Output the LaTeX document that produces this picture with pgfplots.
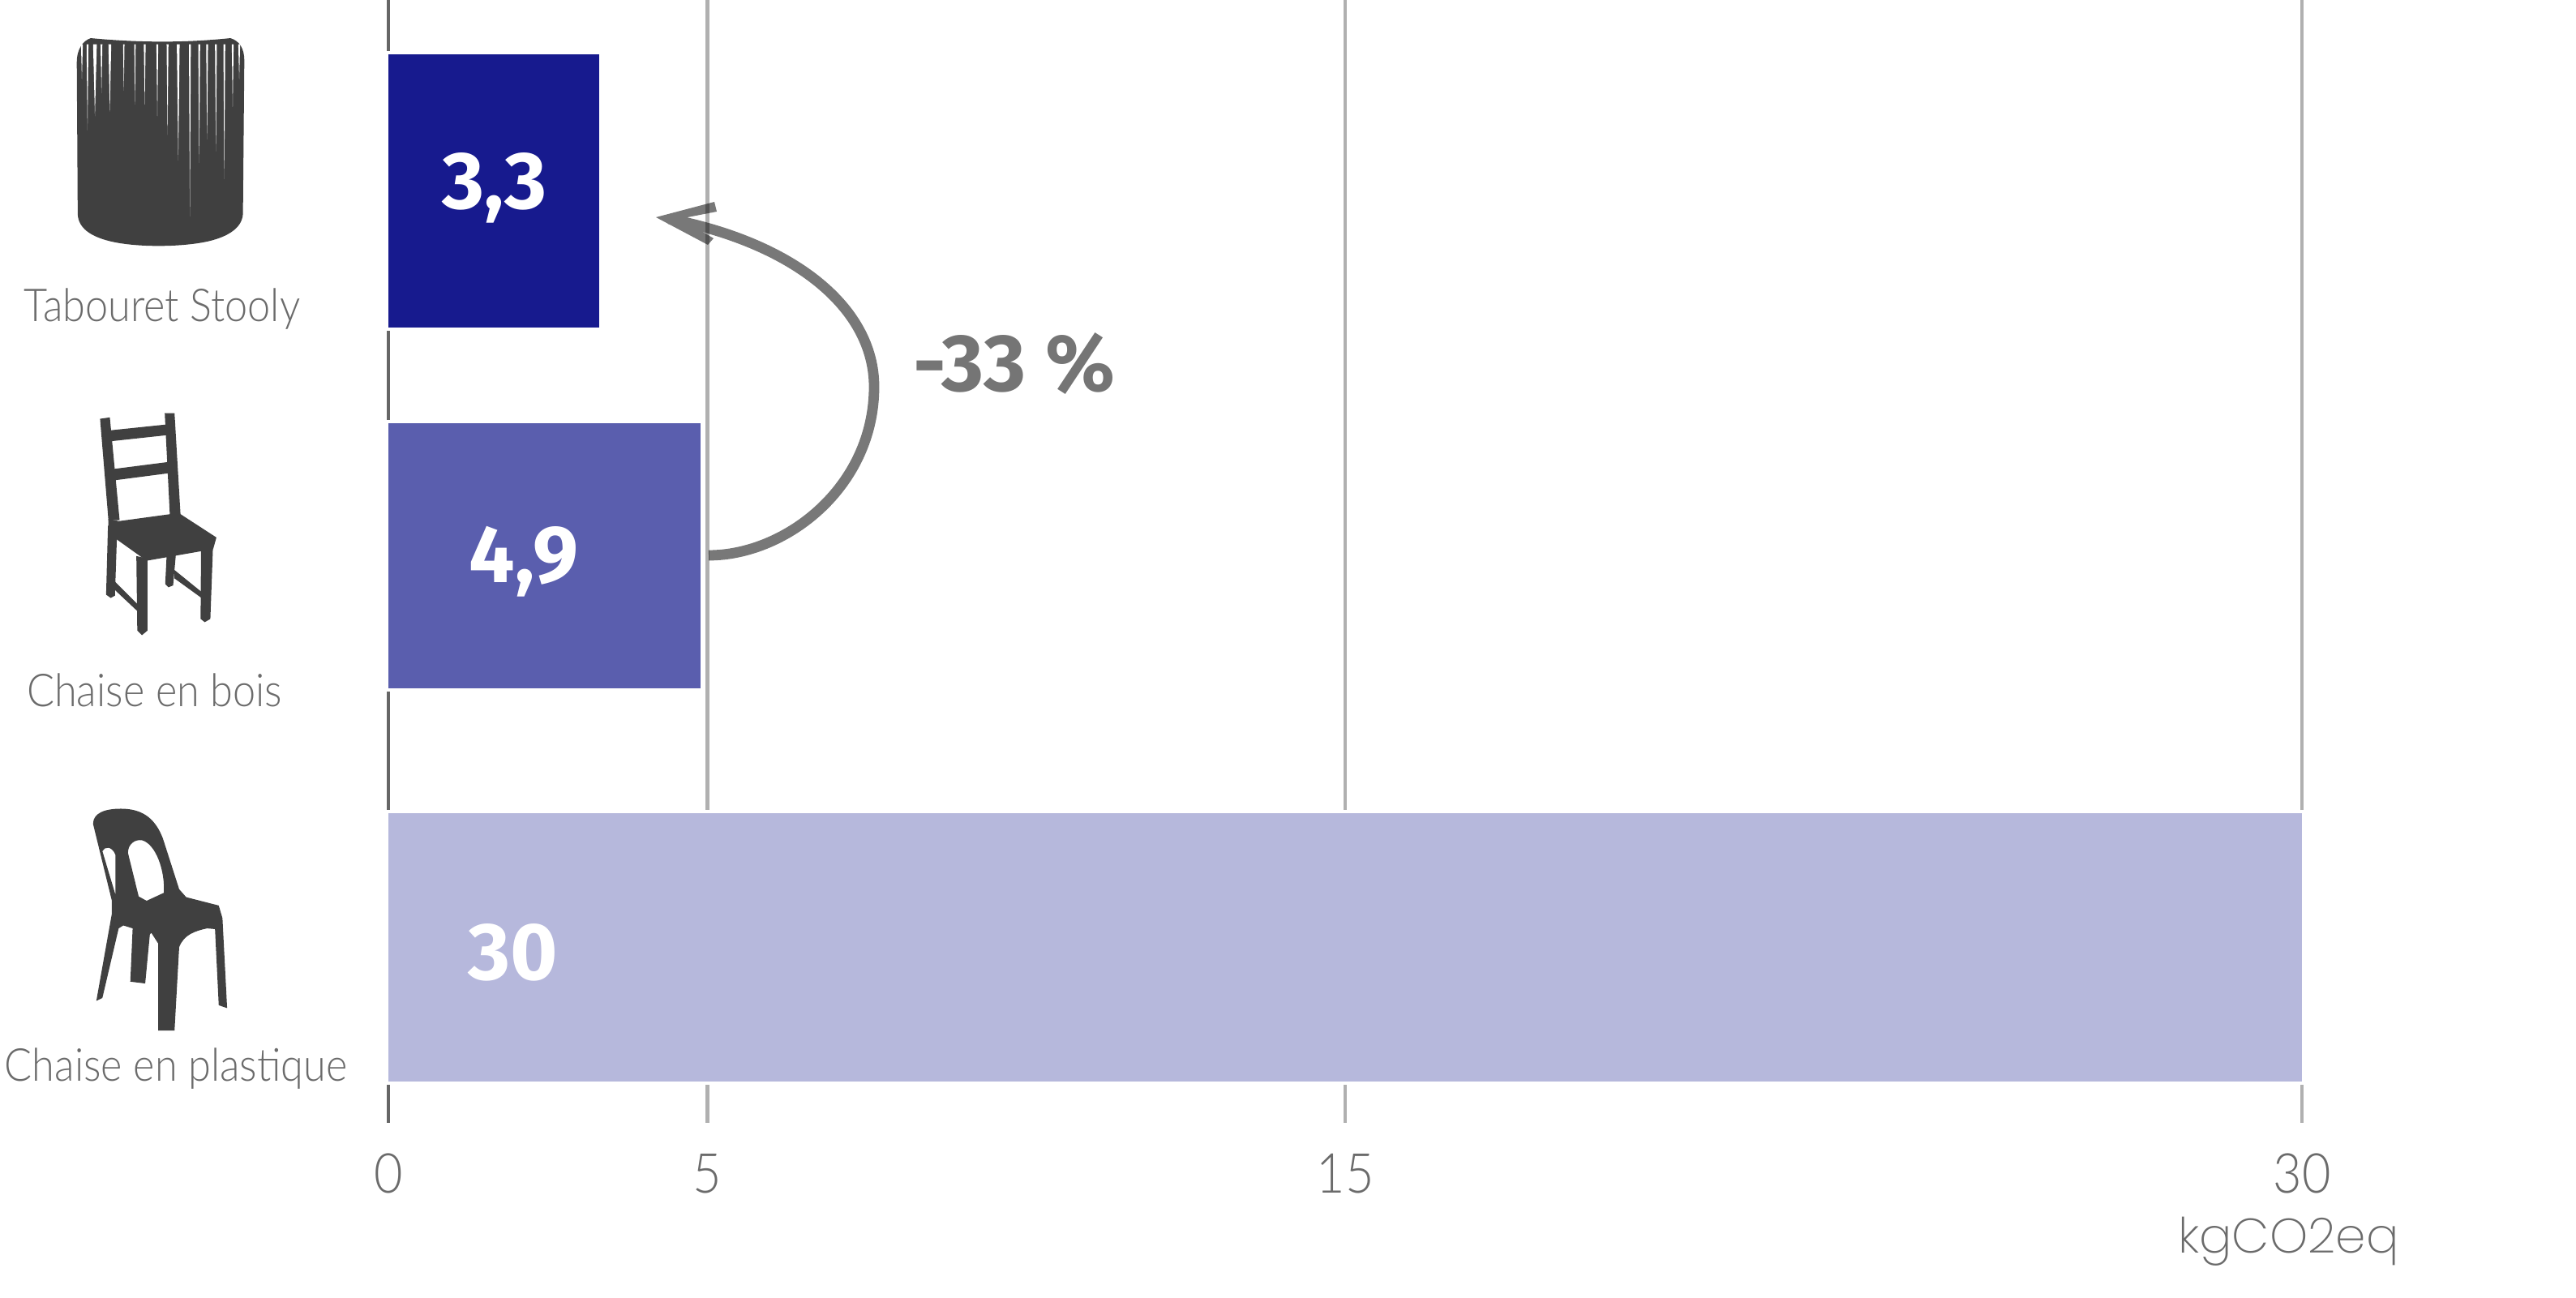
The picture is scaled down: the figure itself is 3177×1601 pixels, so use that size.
\documentclass[border=0pt]{standalone}
\usepackage{fontspec}
\usepackage{pgfplots}
\pgfplotsset{compat=1.18}
\setmainfont{Lato Light}[FakeStretch=0.90]
\newfontfamily\boldf{Fira Sans}
\newfontfamily\axisf{Poppins ExtraLight}
\definecolor{barA}{HTML}{171A8E}
\definecolor{barB}{HTML}{5A5EAE}
\definecolor{barC}{HTML}{B6B8DC}
\definecolor{gridc}{HTML}{B0B0B0}
\definecolor{zeroc}{HTML}{666666}
\definecolor{labelc}{HTML}{6B6B6B}
\definecolor{icon}{HTML}{404040}
% one reference pixel = 0.25pt
\pgfplotsset{
  halo/.style={xbar, bar shift=0pt, draw=white, fill=white, line width=2pt, forget plot},
  solid bar/.style={xbar, bar shift=0pt, draw=none, fill=#1, forget plot},
}
\begin{document}
\begin{tikzpicture}[x=0.25pt,y=-0.25pt]
\path[use as bounding box] (0,0) rectangle (3177,1601);
\begin{axis}[
  at={(119.75pt,0pt)}, anchor=north west,
  scale only axis,
  width=590pt, height=346.25pt,
  clip=false,
  xmin=0, xmax=30,
  ymin=0, ymax=1385,
  y dir=reverse,
  axis line style={draw=none},
  major tick length=0pt,
  xtick={5,15,30},
  extra x ticks={0},
  extra x tick style={major grid style={color=zeroc,line width=1pt}},
  xmajorgrids=true,
  major grid style={color=gridc,line width=1.15pt},
  xticklabel style={anchor=base,yshift=-21.5pt,font=\fontsize{17}{20}\selectfont,text=labelc},
  /pgf/number format/assume math mode=true,
  ytick={396,871,1333},
  yticklabels={{Tabouret Stooly\kern14.5pt},{Chaise en bois\kern20pt},{Chaise en plastique}},
  yticklabel style={anchor=base east,xshift=-12.5pt,inner sep=0pt,font=\fontsize{14}{17}\selectfont,text=labelc},
  xlabel={\axisf kgCO2eq},
  xlabel style={at={(axis description cs:0.993,0)},anchor=base,yshift=-40pt,font=\fontsize{15}{18}\selectfont,text=labelc},
]
% bars: y is the bar centre in reference pixels, width its height
\addplot[halo, bar width=84.25pt] coordinates {(3.3,235.5)};
\addplot[solid bar=barA, bar width=84.25pt] coordinates {(3.3,235.5)};
\addplot[halo, bar width=81.75pt] coordinates {(4.9,685.5)};
\addplot[solid bar=barB, bar width=81.75pt] coordinates {(4.9,685.5)};
\addplot[halo, bar width=82.75pt] coordinates {(30,1168)};
\addplot[solid bar=barC, bar width=82.75pt] coordinates {(30,1168)};
\end{axis}

% value labels
\begin{scope}[every node/.style={text=white,font=\boldf\bfseries\fontsize{25}{30}\selectfont,inner sep=0pt,anchor=base}]
\node at (610,258) {3,3};
\node at (646,719) {4,9};
\node at (633,1208) {30};
\end{scope}

% arrow from the wooden chair to the stool
\begin{scope}[transparency group,opacity=0.53]
\draw[black,line width=3.2pt] (874,685) .. controls (970,685) and (1078,600) .. (1078,477)
  .. controls (1078,380) and (980,300) .. (825,270);
\fill[black] (809,268) -- (881,249) -- (884,261) -- (848,268) -- (850,276) -- (880,294) -- (873,302) -- cycle;
\end{scope}
\node[anchor=base,inner sep=0pt,text=black!54,font=\boldf\bfseries\fontsize{25}{30}\selectfont] at (1251,483) {-33 \%};

% stool icon, in the crop's coordinates
\begin{scope}[x=0.1435pt,y=-0.1435pt]
\fill[icon] (195,82) .. controls (300,92) and (400,92) .. (495,82) .. controls (515,88) and (525,105) .. (525,130)
  -- (522,460) .. controls (520,490) and (490,508) .. (450,518) .. controls (390,532) and (290,532) .. (235,518)
  .. controls (195,508) and (168,490) .. (167,460) -- (165,135) .. controls (165,105) and (178,88) .. (195,82) -- cycle;
\foreach \sx/\sy/\sw in {176/170/2,188/280/2,204/250/4,218/200/2,236/240/3,266/195/1.5,290/225/1.5,311/225/2,338/250/2,360/290/2,383/345/3,408/465/2,428/350/2,445/300/2,464/325/2,482/385/2,500/230/2,514/170/2}{
  \fill[white] (\sx-\sw,95) -- (\sx+\sw,95) -- (\sx,\sy) -- cycle;
}
\end{scope}

% wooden chair icon
\begin{scope}[x=0.1435pt,y=-0.1435pt]
\fill[icon] (215,900) -- (236,897) -- (257,1118) -- (233,1118) -- cycle;
\fill[icon] (354,888) -- (375,888) -- (388,1108) -- (365,1108) -- cycle;
\fill[icon] (235,925) -- (360,912) -- (360,935) -- (240,948) -- cycle;
\fill[icon] (243,1008) -- (360,993) -- (362,1017) -- (247,1032) -- cycle;
\fill[icon] (233,1115) -- (255,1120) -- (365,1105) -- (388,1105) -- (465,1155) -- (458,1180) -- (315,1205) -- (252,1160) -- (232,1150) -- cycle;
\fill[icon] (293,1195) -- (317,1200) -- (317,1355) -- (305,1365) -- (295,1355) -- cycle;
\fill[icon] (432,1185) -- (458,1165) -- (452,1330) -- (440,1337) -- (431,1330) -- cycle;
\fill[icon] (232,1130) -- (252,1130) -- (247,1280) -- (238,1285) -- (228,1278) -- cycle;
\fill[icon] (358,1195) -- (378,1190) -- (372,1258) -- (362,1262) -- (355,1255) -- cycle;
\fill[icon] (247,1250) -- (297,1300) -- (297,1315) -- (247,1268) -- cycle;
\fill[icon] (375,1225) -- (433,1272) -- (433,1285) -- (375,1243) -- cycle;
\end{scope}

% plastic chair icon
\begin{scope}[x=0.1435pt,y=-0.1118pt,yshift=-225.0pt]
\fill[icon,even odd rule]
  (200,260) .. controls (200,230) and (225,218) .. (260,218) .. controls (310,218) and (335,250) .. (350,300)
  -- (385,440) -- (400,462) -- (470,485) -- (478,520) -- (488,768) -- (470,760) -- (462,550) -- (445,548)
  .. controls (420,555) and (395,565) .. (385,600) -- (375,830) -- (340,830) -- (340,590) -- (325,560) -- (322,565)
  -- (312,700) -- (280,695) -- (285,548) -- (265,540) -- (255,548) -- (220,740) -- (207,748) -- (240,510) -- (240,470) -- cycle
  (275,340) .. controls (275,315) and (290,302) .. (305,305) .. controls (335,315) and (355,390) .. (352,450)
  -- (315,472) -- (298,460) -- cycle
  (220,335) .. controls (225,322) and (240,320) .. (248,345) -- (248,455) -- cycle;
\end{scope}
\end{tikzpicture}
\end{document}
